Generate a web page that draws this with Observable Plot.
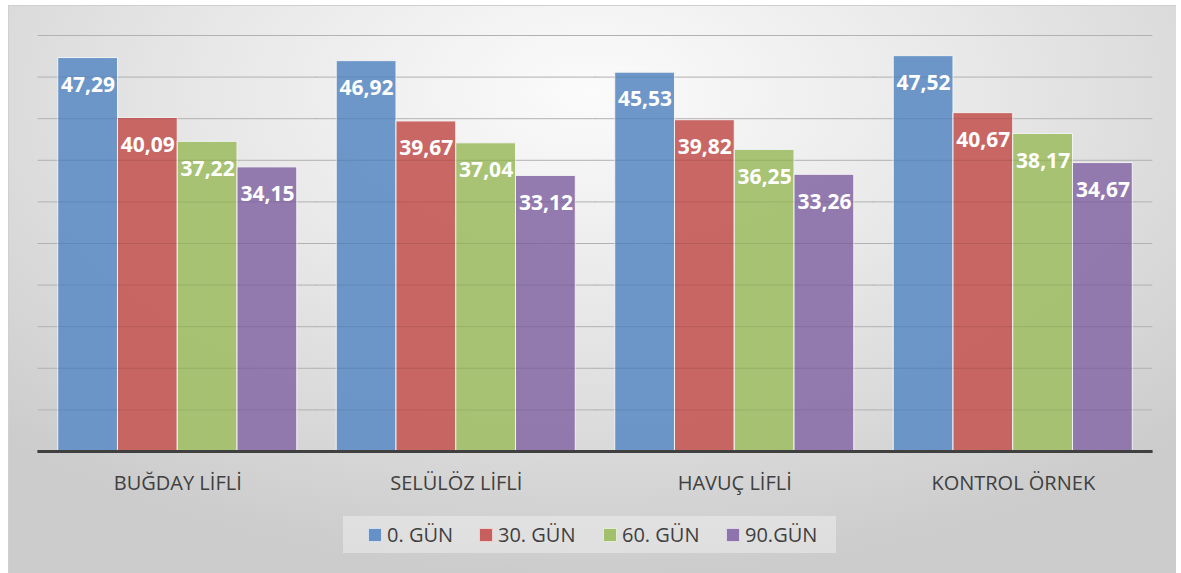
<!DOCTYPE html>
<html>
<head>
<meta charset="utf-8">
<script src="https://cdn.jsdelivr.net/npm/d3@7"></script>
<script src="https://cdn.jsdelivr.net/npm/@observablehq/plot@0.6"></script>
<style>
  html, body { margin: 0; padding: 0; background: #ffffff; width: 1181px; height: 573px; overflow: hidden; font-family: "Open Sans", sans-serif; }
  #frame { position: absolute; left: 8px; top: 5px; width: 1168px; height: 568px;
    background: radial-gradient(ellipse 72% 85% at 50% 15%, #fbfbfb 0%, #e8e8e8 45%, #cccccc 100%);
    box-sizing: border-box; border-top: 1px solid #cfcfcf; border-left: 1px solid #d0d0d0; }
  #chart { position: absolute; left: 0; top: 0; }
  #legend { position: absolute; left: 343px; top: 516px; width: 493px; height: 37px;
    background: rgba(255,255,255,0.35); display: flex; align-items: center; font-size: 20px; color: #404040; }
  .item { position: absolute; display: flex; align-items: center; }
  .sw { width: 12px; height: 12px; border: 1px solid rgba(255,255,255,0.7); margin-right: 5px; }
</style>
</head>
<body>
<div id="frame"></div>
<div id="chart"></div>
<div id="legend"></div>
<script>
const categories = ["BUĞDAY LİFLİ", "SELÜLÖZ LİFLİ", "HAVUÇ LİFLİ", "KONTROL ÖRNEK"];
const series = ["0. GÜN", "30. GÜN", "60. GÜN", "90.GÜN"];
const gun0  = [47.29, 46.92, 45.53, 47.52];
const gun30 = [40.09, 39.67, 39.82, 40.67];
const gun60 = [37.22, 37.04, 36.25, 38.17];
const gun90 = [34.15, 33.12, 33.26, 34.67];
const colors = ["#6591c6", "#c65f5d", "#a2c06b", "#8d74ac"];
const yTicks = [5, 10, 15, 20, 25, 30, 35, 40, 45, 50];

const seriesValues = [gun0, gun30, gun60, gun90];
const data = [];
categories.forEach((c, i) => {
  series.forEach((s, j) => data.push({category: c, series: s, value: seriesValues[j][i]}));
});
const fmt = v => v.toFixed(2).replace(".", ",");

const chart = Plot.plot({
  width: 1181, height: 500,
  marginLeft: 38, marginRight: 29, marginTop: 35, marginBottom: 49,
  style: {background: "transparent", fontFamily: "Open Sans"},
  fx: {domain: categories, padding: 0, round: false, label: null},
  x: {domain: series, paddingInner: 0, paddingOuter: 0.33, round: false, axis: null},
  y: {domain: [0, 50], axis: null},
  color: {domain: series, range: colors},
  marks: [
    Plot.ruleY(yTicks, {stroke: "#c2c2c2", strokeWidth: 1, insetLeft: -0.6, insetRight: -0.6}),
    Plot.barY(data, {fx: "category", x: "series", y: "value", fill: "series", fillOpacity: 0.95, stroke: "#f2f2f2", strokeWidth: 1}),
    Plot.ruleY(yTicks, {stroke: "#000", strokeOpacity: 0.08, strokeWidth: 1}),
    Plot.text(data, {fx: "category", x: "series", y: "value", text: d => fmt(d.value), dy: 27, fill: "white", fontWeight: "bold", fontSize: 21}),
    Plot.ruleY([0], {stroke: "#404040", strokeWidth: 3, insetLeft: -0.6, insetRight: -0.6}),
    Plot.axisFx({anchor: "bottom", tickSize: 0, tickPadding: 24, fontSize: 20, color: "#404040", label: null})
  ]
});
document.getElementById("chart").appendChild(chart);

const legend = document.getElementById("legend");
const lx = [25, 136, 260, 383];
series.forEach((s, i) => {
  const it = document.createElement("div");
  it.className = "item";
  it.style.left = lx[i] + "px";
  const sw = document.createElement("div");
  sw.className = "sw";
  sw.style.background = colors[i];
  const t = document.createElement("span");
  t.textContent = s;
  it.appendChild(sw); it.appendChild(t);
  legend.appendChild(it);
});
</script>
</body>
</html>
